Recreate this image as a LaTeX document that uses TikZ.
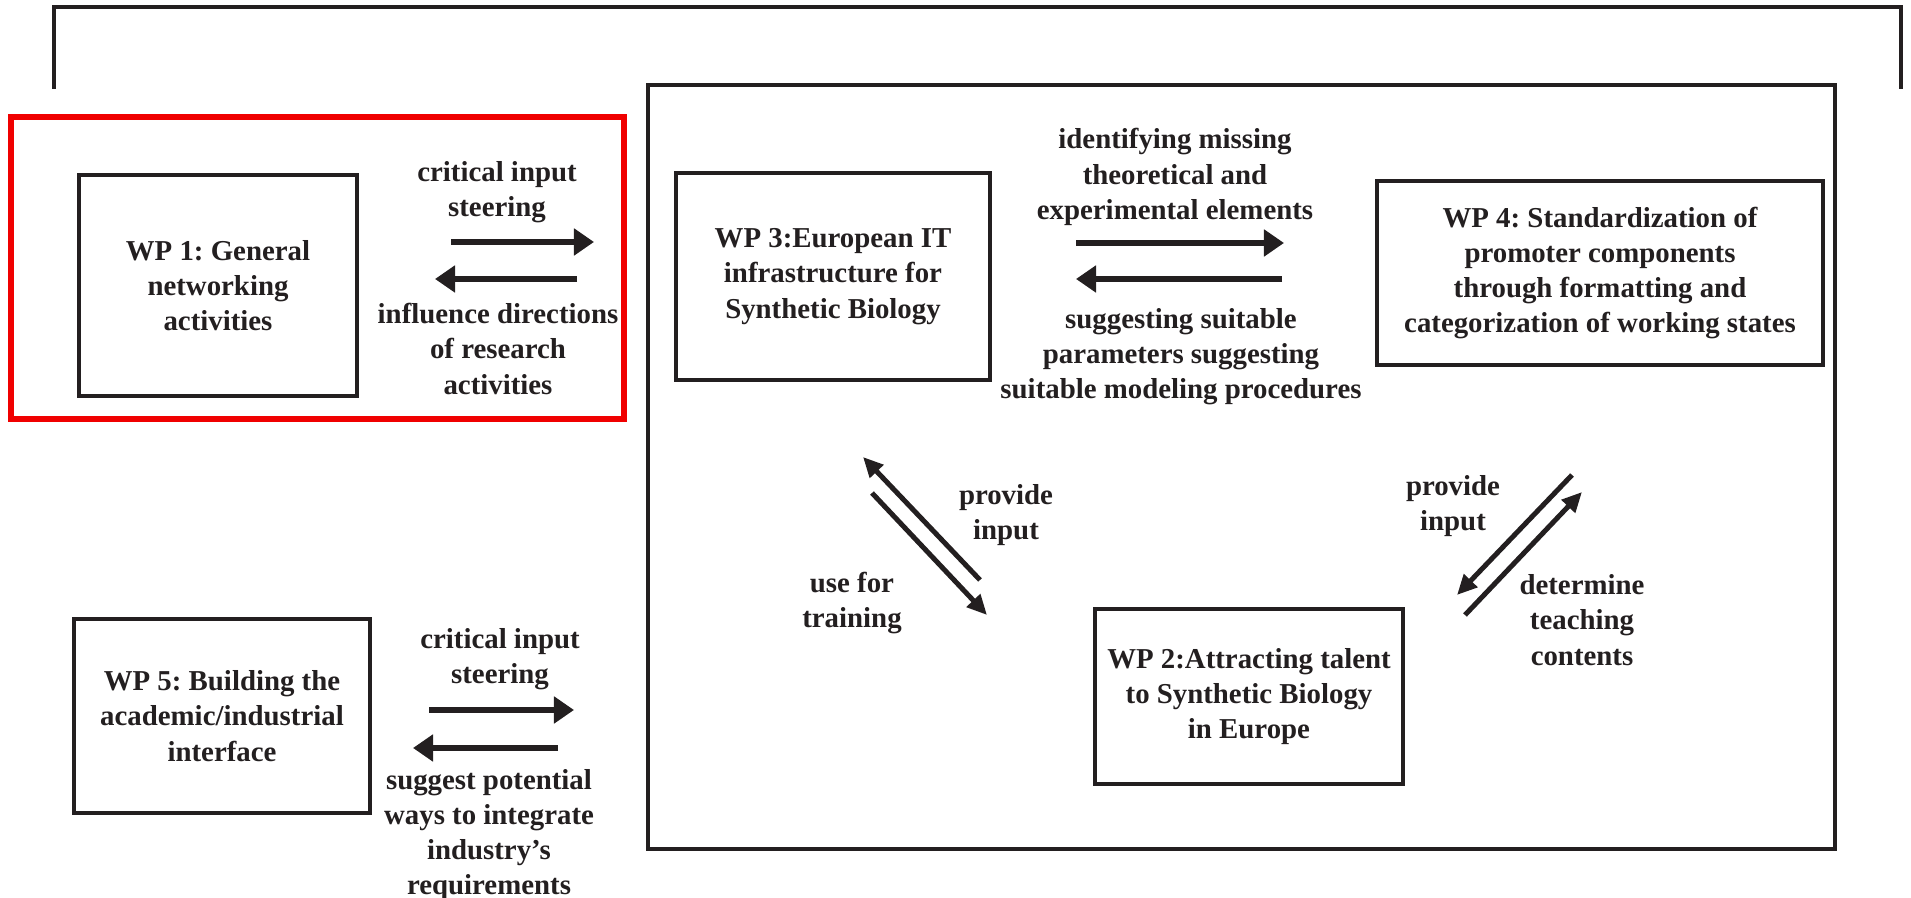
\documentclass[tikz,border=0pt]{standalone}
\usepackage{fontspec}
\setmainfont{Liberation Serif}
\usetikzlibrary{arrows.meta}
\definecolor{ink}{RGB}{35,31,32}
\definecolor{redframe}{RGB}{240,0,0}
\frenchspacing
\tikzset{
  wpbox/.style={draw=ink, line width=1.1pt, align=center, inner sep=0pt},
  lbl/.style={align=center, text=ink, font=\fontsize{8.2}{10}\selectfont\bfseries},
  bigarrow/.style={draw=ink, line width=0.06cm, -{Triangle[length=0.2cm,width=0.26cm]}},
  diagarrow/.style={draw=ink, line width=0.05cm, -{Triangle[length=0.2cm,width=0.18cm]}}
}
\begin{document}
\begin{tikzpicture}[x=0.01cm, y=-0.01cm]
  \useasboundingbox (0,0) rectangle (1911,898);
  % Coordinates
  \coordinate (BL) at (54,89);
  \coordinate (BT) at (1901,7);
  \coordinate (BR) at (1901,89);
  \coordinate (RA) at (11,117);
  \coordinate (RB) at (624,419);
  \coordinate (FA) at (648,85);
  \coordinate (FB) at (1835,849);
  % horizontal arrow ends
  \coordinate (A1s) at (451,242);
  \coordinate (A1e) at (594,242);
  \coordinate (A2s) at (577,279);
  \coordinate (A2e) at (435,279);
  \coordinate (A3s) at (1076,243);
  \coordinate (A3e) at (1284,243);
  \coordinate (A4s) at (1282,279);
  \coordinate (A4e) at (1076,279);
  \coordinate (A5s) at (429,710);
  \coordinate (A5e) at (574,710);
  \coordinate (A6s) at (558,748);
  \coordinate (A6e) at (413,748);
  % diagonal arrow ends
  \coordinate (D1s) at (980,580);
  \coordinate (D1e) at (863,457);
  \coordinate (D2s) at (872,493);
  \coordinate (D2e) at (987,615);
  \coordinate (D3s) at (1572,475);
  \coordinate (D3e) at (1457,595);
  \coordinate (D4s) at (1465,615);
  \coordinate (D4e) at (1582,492);

  % Drawing
  \draw[draw=ink, line width=1pt] (BL) |- (BT) -- (BR);
  \draw[draw=redframe, line width=1.45pt] (RA) rectangle (RB);
  \draw[draw=ink, line width=1.1pt] (FA) rectangle (FB);

  \node[wpbox, lbl, minimum width=2.78cm, minimum height=2.21cm] (wp1) at (218,285.5)
    {WP 1: General\\networking\\activities};
  \node[wpbox, lbl, minimum width=3.14cm, minimum height=2.07cm] (wp3) at (833,276.5)
    {WP 3:European IT\\infrastructure for\\Synthetic Biology};
  \node[wpbox, lbl, minimum width=4.46cm, minimum height=1.84cm] (wp4) at (1600,273)
    {WP 4: Standardization of\\promoter components\\through formatting and\\categorization of working states};
  \node[wpbox, lbl, minimum width=3.08cm, minimum height=1.75cm] (wp2) at (1249,696.5)
    {WP 2:Attracting talent\\to Synthetic Biology\\in Europe};
  \node[wpbox, lbl, minimum width=2.96cm, minimum height=1.94cm] (wp5) at (222,716)
    {WP 5: Building the\\academic/industrial\\interface};

  \node[lbl] (crit1) at (497,192) {critical input\\steering};
  \node[lbl] (infl1) at (498,349) {influence directions\\of research\\activities};
  \node[lbl] (ident) at (1175,177) {identifying missing\\theoretical and\\experimental elements};
  \node[lbl] (sugg) at (1181,357) {suggesting suitable\\parameters suggesting\\suitable modeling procedures};
  \node[lbl] (prov1) at (1006,515) {provide\\input};
  \node[lbl] (train) at (852,603) {use for\\training};
  \node[lbl] (prov2) at (1453,506) {provide\\input};
  \node[lbl] (teach) at (1582,620) {determine\\teaching\\contents};
  \node[lbl] (crit5) at (500,659) {critical input\\steering};
  \node[lbl] (ways) at (489,835) {suggest potential\\ways to integrate\\industry’s\\requirements};

  \draw[bigarrow] (A1s) -- (A1e);
  \draw[bigarrow] (A2s) -- (A2e);
  \draw[bigarrow] (A3s) -- (A3e);
  \draw[bigarrow] (A4s) -- (A4e);
  \draw[bigarrow] (A5s) -- (A5e);
  \draw[bigarrow] (A6s) -- (A6e);
  \draw[diagarrow] (D1s) -- (D1e);
  \draw[diagarrow] (D2s) -- (D2e);
  \draw[diagarrow] (D3s) -- (D3e);
  \draw[diagarrow] (D4s) -- (D4e);
\end{tikzpicture}
\end{document}
